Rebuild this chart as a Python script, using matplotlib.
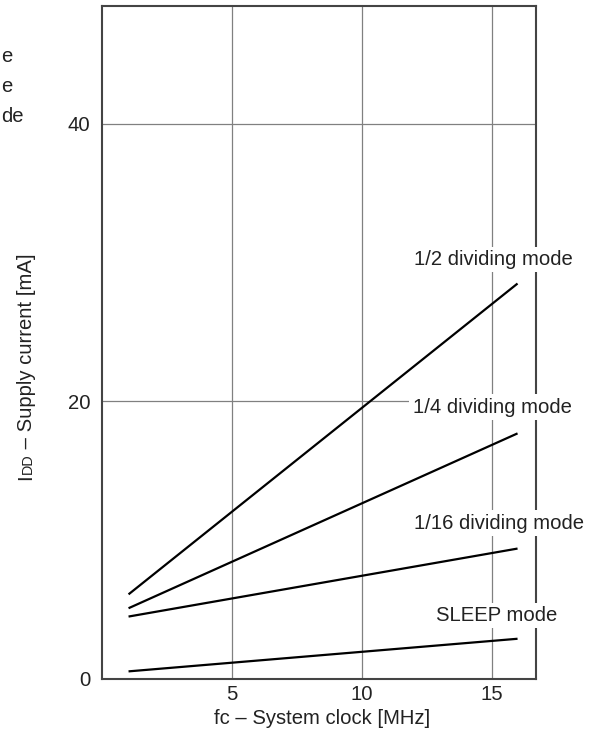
import matplotlib
matplotlib.use("Agg")
import matplotlib.pyplot as plt

plt.rcParams['font.family'] = ['Liberation Sans', 'DejaVu Sans']

W, H = 597, 737
FS = 14.6

# datos
fc = [1, 16]
idd_half = [6.1, 28.5]
idd_quarter = [5.1, 17.7]
idd_16 = [4.5, 9.4]
idd_sleep = [0.55, 2.9]

modes = ["1/2 dividing mode", "1/4 dividing mode", "1/16 dividing mode", "SLEEP mode"]
series = [idd_half, idd_quarter, idd_16, idd_sleep]

x_ticks = [5, 10, 15]
y_ticks = [0, 20, 40]

fig = plt.figure(figsize=(W / 100, H / 100), dpi=100)
ax = fig.add_axes([101.7 / W, (H - 679) / H, (535.7 - 101.7) / W, (679 - 6) / H])

for s in series:
    ax.plot(fc, s, color='black', lw=1.6, solid_capstyle='butt', zorder=3)

ax.set_xlim(-0.035, 16.7)
ax.set_ylim(0, 48.5)
ax.set_xticks(x_ticks)
ax.set_yticks(y_ticks)
ax.tick_params(length=0, labelsize=FS, colors='#222222')
ax.tick_params(axis='y', pad=8.0)
ax.tick_params(axis='x', pad=4.5)
ax.grid(True, color='#808080', lw=0.9)
ax.set_axisbelow(True)
for sp in ax.spines.values():
    sp.set_color('#444444')
    sp.set_linewidth(1.5)

# etiquetas de cada curva
label_pos = [(12.0, 30.2), (11.95, 19.6), (12.0, 11.24), (12.85, 4.6)]
for txt, (lx, ly) in zip(modes, label_pos):
    ax.text(lx, ly, txt, fontsize=FS, ha='left', va='center', color='#222222',
            zorder=5, clip_on=False,
            bbox=dict(boxstyle='square,pad=0.15', fc='white', ec='none'))

# fragmentos de texto en la esquina superior izquierda
for yy, t in [(57, "e"), (87, "e"), (117, "de")]:
    fig.text(1 / W, 1 - yy / H, t, fontsize=FS, ha='left', va='center', color='#222222')

# etiqueta eje x
fig.text(322 / W, 1 - 718 / H, "fc – System clock [MHz]", fontsize=FS,
         ha='center', va='center', color='#222222')

# etiqueta eje y con "DD" en versalitas
fig.canvas.draw()
renderer = fig.canvas.get_renderer()
y0 = 480.0
parts = [("I", FS), ("DD", 10.4), (" – Supply current [mA]", FS)]
for t, fs in parts:
    tx = fig.text(31.5 / W, 1 - y0 / H, t, fontsize=fs, rotation=90,
                  rotation_mode='anchor', ha='left', va='baseline', color='#222222')
    bb = tx.get_window_extent(renderer)
    y0 -= bb.height

fig.savefig("out.png", dpi=100)
